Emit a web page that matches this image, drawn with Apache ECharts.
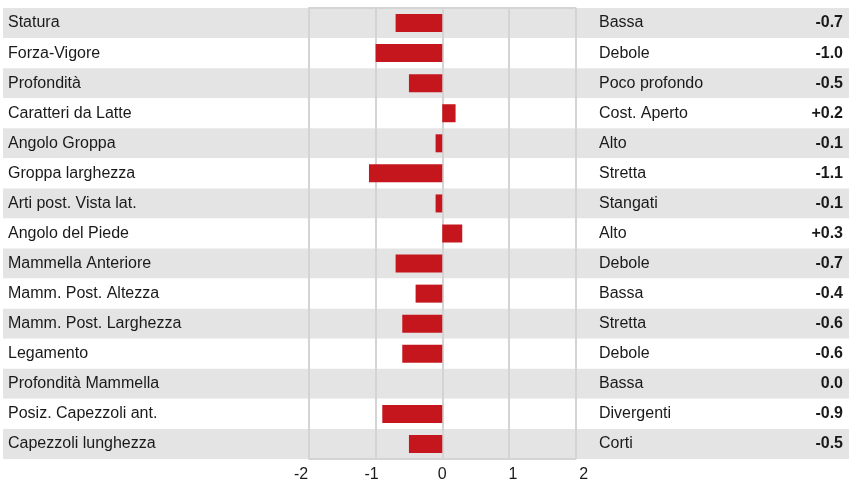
<!DOCTYPE html>
<html>
<head>
<meta charset="utf-8">
<script src="https://cdn.jsdelivr.net/npm/echarts@6/dist/echarts.min.js"></script>
<style>html,body{margin:0;padding:0;background:#fff;}#c{width:857px;height:483px;}</style>
</head>
<body>
<div id="c"></div>
<script>
const categories = ["Statura","Forza-Vigore","Profondità","Caratteri da Latte","Angolo Groppa","Groppa larghezza","Arti post. Vista lat.","Angolo del Piede","Mammella Anteriore","Mamm. Post. Altezza","Mamm. Post. Larghezza","Legamento","Profondità Mammella","Posiz. Capezzoli ant.","Capezzoli lunghezza"];
const descriptors = ["Bassa","Debole","Poco profondo","Cost. Aperto","Alto","Stretta","Stangati","Alto","Debole","Bassa","Stretta","Debole","Bassa","Divergenti","Corti"];
const values = [-0.7,-1.0,-0.5,0.2,-0.1,-1.1,-0.1,0.3,-0.7,-0.4,-0.6,-0.6,0.0,-0.9,-0.5];
const xTicks = [-2,-1,0,1,2];

const fmt = v => (v > 0 ? '+' : '') + v.toFixed(1);
const FONT = 'Liberation Sans';
const TXT = '#1a1a1a';
const GRID = '#d4d4d4';
const stripe = {show: true, areaStyle: {color: ['#e4e4e4', '#ffffff']}};
const gTop = 8, gBottom = 24;
const xMin = xTicks[0], xMax = xTicks[xTicks.length - 1];

const chart = echarts.init(document.getElementById('c'));
chart.setOption({
  animation: false,
  textStyle: {fontFamily: FONT},
  grid: [
    {left: 3, width: 306, top: gTop, bottom: gBottom},
    {left: 309, width: 266.5, top: gTop, bottom: gBottom},
    {left: 576, width: 273, top: gTop, bottom: gBottom},
    {left: 301, width: 282.6, top: gTop, bottom: gBottom}
  ],
  xAxis: [
    {gridIndex: 0, type: 'value', min: 0, max: 1, show: false},
    {gridIndex: 1, type: 'value', min: xMin, max: xMax, interval: 1, position: 'bottom',
     axisLine: {show: true, lineStyle: {color: GRID, width: 2}}, axisTick: {show: false},
     axisLabel: {show: false},
     splitLine: {show: true, lineStyle: {color: GRID, width: 2}}},
    {gridIndex: 1, type: 'value', min: xMin, max: xMax, position: 'top',
     axisLine: {show: true, onZero: false, lineStyle: {color: GRID, width: 2}}, axisTick: {show: false},
     axisLabel: {show: false}, splitLine: {show: false}},
    {gridIndex: 2, type: 'value', min: 0, max: 1, show: false},
    {gridIndex: 3, type: 'value', min: xMin, max: xMax, interval: 1, position: 'bottom',
     axisLine: {show: false}, axisTick: {show: false}, splitLine: {show: false},
     axisLabel: {fontSize: 16, color: TXT, margin: 9, fontFamily: FONT}}
  ],
  yAxis: [
    {gridIndex: 0, type: 'category', inverse: true, data: categories, position: 'left',
     axisLine: {show: false}, axisTick: {show: false}, splitLine: {show: false}, splitArea: stripe,
     axisLabel: {inside: true, margin: 5, fontSize: 16, color: TXT, fontFamily: FONT}},
    {gridIndex: 1, type: 'category', inverse: true, data: categories,
     axisLine: {show: false}, axisTick: {show: false}, axisLabel: {show: false}, splitLine: {show: false}, splitArea: stripe},
    {gridIndex: 2, type: 'category', inverse: true, data: descriptors, position: 'left',
     axisLine: {show: false}, axisTick: {show: false}, splitLine: {show: false}, splitArea: stripe,
     axisLabel: {inside: true, margin: 23, fontSize: 16, color: TXT, fontFamily: FONT}},
    {gridIndex: 2, type: 'category', inverse: true, data: values.map(fmt), position: 'right',
     axisLine: {show: false}, axisTick: {show: false}, splitLine: {show: false}, splitArea: {show: false},
     axisLabel: {inside: true, margin: 6, fontSize: 16, fontWeight: 'bold', color: TXT, fontFamily: FONT}},
    {gridIndex: 3, type: 'category', data: categories, show: false}
  ],
  series: [
    {type: 'bar', xAxisIndex: 1, yAxisIndex: 1, data: values, barWidth: 18,
     itemStyle: {color: '#c4161c'}, silent: true}
  ]
});
</script>
</body>
</html>
